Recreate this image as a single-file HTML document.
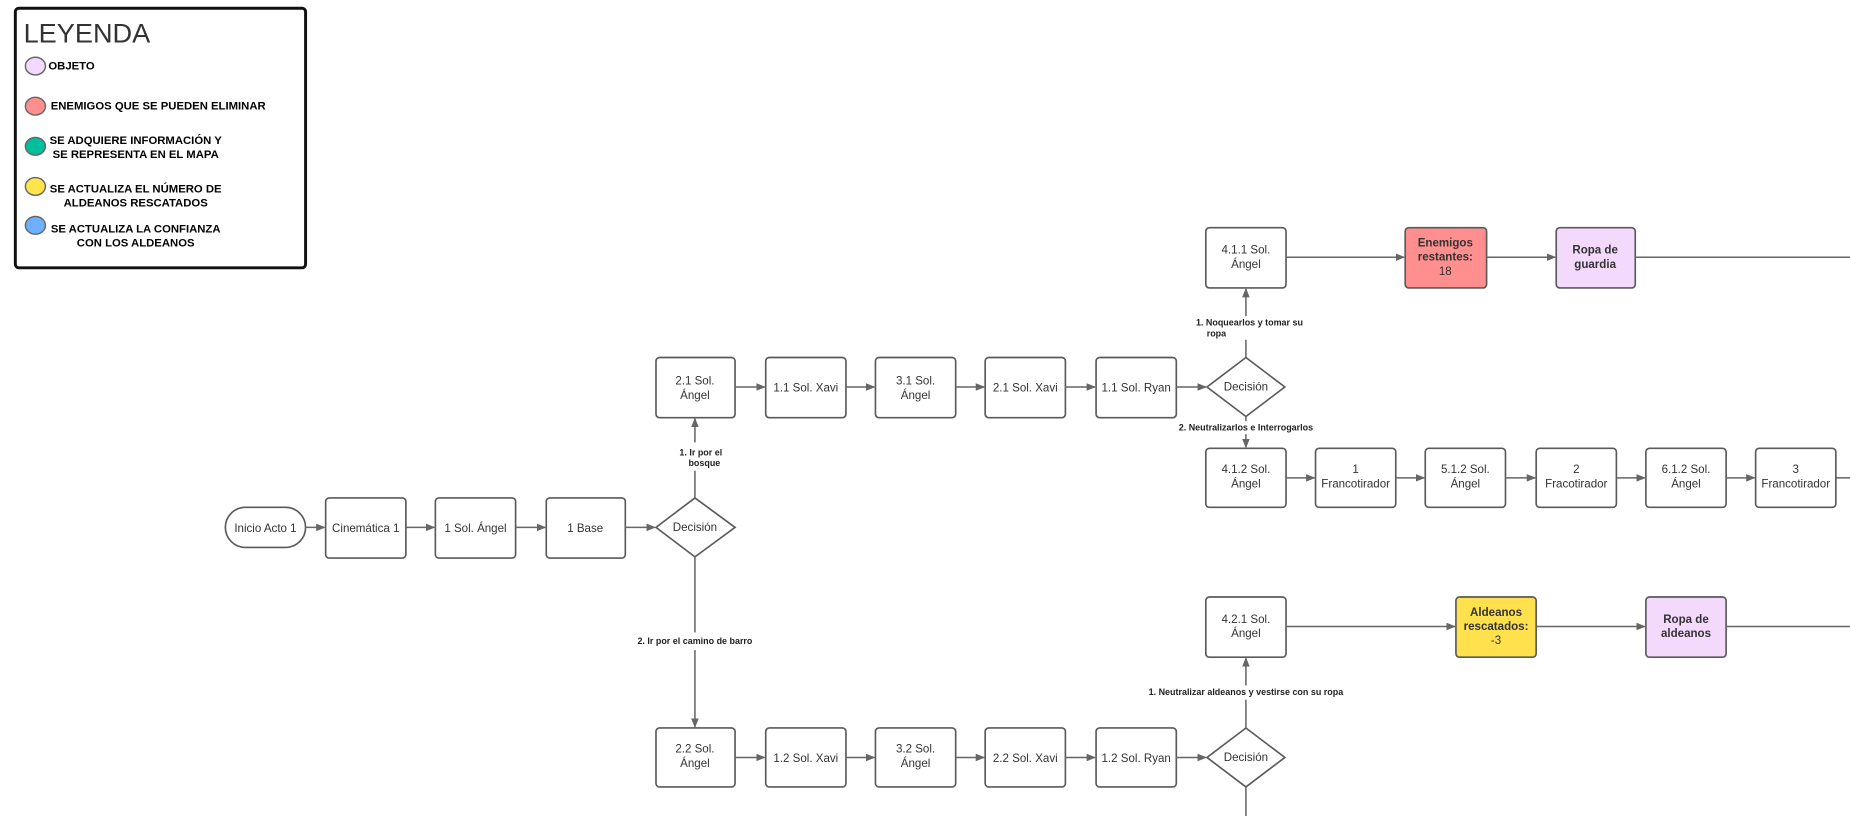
<!DOCTYPE html>
<html><head><meta charset="utf-8"><style>
html,body{margin:0;padding:0;background:#fff;}
svg{display:block;}
text{font-family:"Liberation Sans",Arial,sans-serif;fill:#333;}
.n{font-size:9.8px;text-anchor:middle;}
.b{font-size:9.8px;text-anchor:middle;font-weight:bold;}
.l{font-size:7.6px;font-weight:bold;text-anchor:middle;fill:#222;}
.g{font-size:9.6px;font-weight:bold;fill:#000;text-anchor:middle;}
.box{fill:#fff;stroke:#5a5a5a;stroke-width:1.4;}
.ln{stroke:#666;stroke-width:1.3;fill:none;}
</style></head><body>
<svg width="1850" height="816" viewBox="0 0 1568 691.6" xmlns="http://www.w3.org/2000/svg">
<defs><marker id="a" markerWidth="8" markerHeight="8" refX="7" refY="4" orient="auto" markerUnits="userSpaceOnUse"><path d="M0,0.8 L8,4 L0,7.2z" fill="#666"/></marker></defs>
<!-- legend -->
<rect x="13" y="7" width="246" height="220" rx="3" fill="#fff" stroke="#111" stroke-width="2.5"/>
<text x="20" y="36" style="font-size:23px;fill:#333">LEYENDA</text>
<ellipse cx="30" cy="56" rx="8.5" ry="7.5" fill="#f3d9fc" stroke="#666" stroke-width="1.2"/>
<text x="41" y="59" style="font-size:9.6px;font-weight:bold;fill:#000">OBJETO</text>
<ellipse cx="30" cy="90" rx="8.5" ry="7.5" fill="#ff8f8f" stroke="#666" stroke-width="1.2"/>
<text x="43" y="93" style="font-size:9.6px;font-weight:bold;fill:#000">ENEMIGOS QUE SE PUEDEN ELIMINAR</text>
<ellipse cx="30" cy="124" rx="8.5" ry="7.5" fill="#00bf9c" stroke="#666" stroke-width="1.2"/>
<text x="115" y="122" class="g">SE ADQUIERE INFORMACIÓN Y</text>
<text x="115" y="134" class="g">SE REPRESENTA EN EL MAPA</text>
<ellipse cx="30" cy="158" rx="8.5" ry="7.5" fill="#ffe44d" stroke="#666" stroke-width="1.2"/>
<text x="115" y="163" class="g">SE ACTUALIZA EL NÚMERO DE</text>
<text x="115" y="175" class="g">ALDEANOS RESCATADOS</text>
<ellipse cx="30" cy="191" rx="8.5" ry="7.5" fill="#6cb0ff" stroke="#666" stroke-width="1.2"/>
<text x="115" y="197" class="g">SE ACTUALIZA LA CONFIANZA</text>
<text x="115" y="209" class="g">CON LOS ALDEANOS</text>

<!-- main row -->
<rect x="191" y="430" width="68" height="34" rx="17" class="box"/>
<text x="225" y="451" class="n">Inicio Acto 1</text>
<line x1="259" y1="447" x2="275" y2="447" class="ln" marker-end="url(#a)"/>
<rect x="276" y="422" width="68" height="51" rx="3" class="box"/><text x="310" y="451" class="n">Cinemática 1</text>
<line x1="344" y1="447" x2="368" y2="447" class="ln" marker-end="url(#a)"/>
<rect x="369" y="422" width="68" height="51" rx="3" class="box"/><text x="403" y="451" class="n">1 Sol. Ángel</text>
<line x1="437" y1="447" x2="462" y2="447" class="ln" marker-end="url(#a)"/>
<rect x="463" y="422" width="67" height="51" rx="3" class="box"/><text x="496" y="451" class="n">1 Base</text>
<line x1="530" y1="447" x2="555" y2="447" class="ln" marker-end="url(#a)"/>
<path d="M589,422 L623,447 L589,472 L556,447z" class="box"/><text x="589" y="450" class="n">Decisión</text>
<line x1="589" y1="375" x2="589" y2="355" class="ln" marker-end="url(#a)"/>
<line x1="589" y1="422" x2="589" y2="399" class="ln"/>
<text x="594" y="386" class="l">1. Ir por el</text><text x="597" y="395" class="l">bosque</text>
<line x1="589" y1="472" x2="589" y2="536" class="ln"/>
<text x="589" y="546" class="l">2. Ir por el camino de barro</text>
<line x1="589" y1="551" x2="589" y2="616" class="ln" marker-end="url(#a)"/>

<!-- top row -->
<rect x="556" y="303" width="67" height="51" rx="3" class="box"/><text x="589" y="326" class="n">2.1 Sol.</text><text x="589" y="338" class="n">Ángel</text>
<line x1="623" y1="328" x2="648" y2="328" class="ln" marker-end="url(#a)"/>
<rect x="649" y="303" width="68" height="51" rx="3" class="box"/><text x="683" y="332" class="n">1.1 Sol. Xavi</text>
<line x1="717" y1="328" x2="741" y2="328" class="ln" marker-end="url(#a)"/>
<rect x="742" y="303" width="68" height="51" rx="3" class="box"/><text x="776" y="326" class="n">3.1 Sol.</text><text x="776" y="338" class="n">Ángel</text>
<line x1="810" y1="328" x2="834" y2="328" class="ln" marker-end="url(#a)"/>
<rect x="835" y="303" width="68" height="51" rx="3" class="box"/><text x="869" y="332" class="n">2.1 Sol. Xavi</text>
<line x1="903" y1="328" x2="928" y2="328" class="ln" marker-end="url(#a)"/>
<rect x="929" y="303" width="68" height="51" rx="3" class="box"/><text x="963" y="332" class="n">1.1 Sol. Ryan</text>
<line x1="997" y1="328" x2="1022" y2="328" class="ln" marker-end="url(#a)"/>
<path d="M1056,303 L1089,328 L1056,353 L1023,328z" class="box"/><text x="1056" y="331" class="n">Decisión</text>
<line x1="1056" y1="303" x2="1056" y2="288" class="ln"/>
<line x1="1056" y1="268" x2="1056" y2="245" class="ln" marker-end="url(#a)"/>
<text x="1059" y="276" class="l">1. Noquearlos y tomar su</text><text x="1031" y="285" class="l">ropa</text>
<line x1="1056" y1="353" x2="1056" y2="357" class="ln"/>
<text x="1056" y="365" class="l">2. Neutralizarlos e Interrogarlos</text>
<line x1="1056" y1="368" x2="1056" y2="379" class="ln" marker-end="url(#a)"/>

<rect x="1022" y="193" width="68" height="51" rx="3" class="box"/><text x="1056" y="215" class="n">4.1.1 Sol.</text><text x="1056" y="227" class="n">Ángel</text>
<line x1="1090" y1="218" x2="1190" y2="218" class="ln" marker-end="url(#a)"/>
<rect x="1191" y="193" width="69" height="51" rx="3" class="box" style="fill:#ff8f8f"/>
<text x="1225" y="209" class="b">Enemigos</text><text x="1225" y="221" class="b">restantes:</text><text x="1225" y="233" class="n">18</text>
<line x1="1260" y1="218" x2="1318" y2="218" class="ln" marker-end="url(#a)"/>
<rect x="1319" y="193" width="67" height="51" rx="3" class="box" style="fill:#f3d9fc"/>
<text x="1352" y="215" class="b">Ropa de</text><text x="1352" y="227" class="b">guardia</text>
<line x1="1386" y1="218" x2="1568" y2="218" class="ln"/>

<!-- row 4.1.2 -->
<rect x="1022" y="380" width="68" height="50" rx="3" class="box"/><text x="1056" y="401" class="n">4.1.2 Sol.</text><text x="1056" y="413" class="n">Ángel</text>
<line x1="1090" y1="405" x2="1114" y2="405" class="ln" marker-end="url(#a)"/>
<rect x="1115" y="380" width="68" height="50" rx="3" class="box"/><text x="1149" y="401" class="n">1</text><text x="1149" y="413" class="n">Francotirador</text>
<line x1="1183" y1="405" x2="1207" y2="405" class="ln" marker-end="url(#a)"/>
<rect x="1208" y="380" width="68" height="50" rx="3" class="box"/><text x="1242" y="401" class="n">5.1.2 Sol.</text><text x="1242" y="413" class="n">Ángel</text>
<line x1="1276" y1="405" x2="1301" y2="405" class="ln" marker-end="url(#a)"/>
<rect x="1302" y="380" width="68" height="50" rx="3" class="box"/><text x="1336" y="401" class="n">2</text><text x="1336" y="413" class="n">Fracotirador</text>
<line x1="1370" y1="405" x2="1394" y2="405" class="ln" marker-end="url(#a)"/>
<rect x="1395" y="380" width="68" height="50" rx="3" class="box"/><text x="1429" y="401" class="n">6.1.2 Sol.</text><text x="1429" y="413" class="n">Ángel</text>
<line x1="1463" y1="405" x2="1487" y2="405" class="ln" marker-end="url(#a)"/>
<rect x="1488" y="380" width="68" height="50" rx="3" class="box"/><text x="1522" y="401" class="n">3</text><text x="1522" y="413" class="n">Francotirador</text>
<line x1="1556" y1="405" x2="1568" y2="405" class="ln"/>

<!-- bottom row -->
<rect x="556" y="617" width="67" height="50" rx="3" class="box"/><text x="589" y="638" class="n">2.2 Sol.</text><text x="589" y="650" class="n">Ángel</text>
<line x1="623" y1="642" x2="648" y2="642" class="ln" marker-end="url(#a)"/>
<rect x="649" y="617" width="68" height="50" rx="3" class="box"/><text x="683" y="646" class="n">1.2 Sol. Xavi</text>
<line x1="717" y1="642" x2="741" y2="642" class="ln" marker-end="url(#a)"/>
<rect x="742" y="617" width="68" height="50" rx="3" class="box"/><text x="776" y="638" class="n">3.2 Sol.</text><text x="776" y="650" class="n">Ángel</text>
<line x1="810" y1="642" x2="834" y2="642" class="ln" marker-end="url(#a)"/>
<rect x="835" y="617" width="68" height="50" rx="3" class="box"/><text x="869" y="646" class="n">2.2 Sol. Xavi</text>
<line x1="903" y1="642" x2="928" y2="642" class="ln" marker-end="url(#a)"/>
<rect x="929" y="617" width="68" height="50" rx="3" class="box"/><text x="963" y="646" class="n">1.2 Sol. Ryan</text>
<line x1="997" y1="642" x2="1022" y2="642" class="ln" marker-end="url(#a)"/>
<path d="M1056,617 L1089,642 L1056,667 L1023,642z" class="box"/><text x="1056" y="645" class="n">Decisión</text>
<line x1="1056" y1="667" x2="1056" y2="692" class="ln"/>
<line x1="1056" y1="617" x2="1056" y2="593" class="ln"/>
<text x="1056" y="589" class="l">1. Neutralizar aldeanos y vestirse con su ropa</text>
<line x1="1056" y1="581" x2="1056" y2="558" class="ln" marker-end="url(#a)"/>

<rect x="1022" y="506" width="68" height="51" rx="3" class="box"/><text x="1056" y="528" class="n">4.2.1 Sol.</text><text x="1056" y="540" class="n">Ángel</text>
<line x1="1090" y1="531" x2="1233" y2="531" class="ln" marker-end="url(#a)"/>
<rect x="1234" y="506" width="68" height="51" rx="3" class="box" style="fill:#ffe14d"/>
<text x="1268" y="522" class="b">Aldeanos</text><text x="1268" y="534" class="b">rescatados:</text><text x="1268" y="546" class="n">-3</text>
<line x1="1302" y1="531" x2="1394" y2="531" class="ln" marker-end="url(#a)"/>
<rect x="1395" y="506" width="68" height="51" rx="3" class="box" style="fill:#f3d9fc"/>
<text x="1429" y="528" class="b">Ropa de</text><text x="1429" y="540" class="b">aldeanos</text>
<line x1="1463" y1="531" x2="1568" y2="531" class="ln"/>
</svg>
</body></html>
